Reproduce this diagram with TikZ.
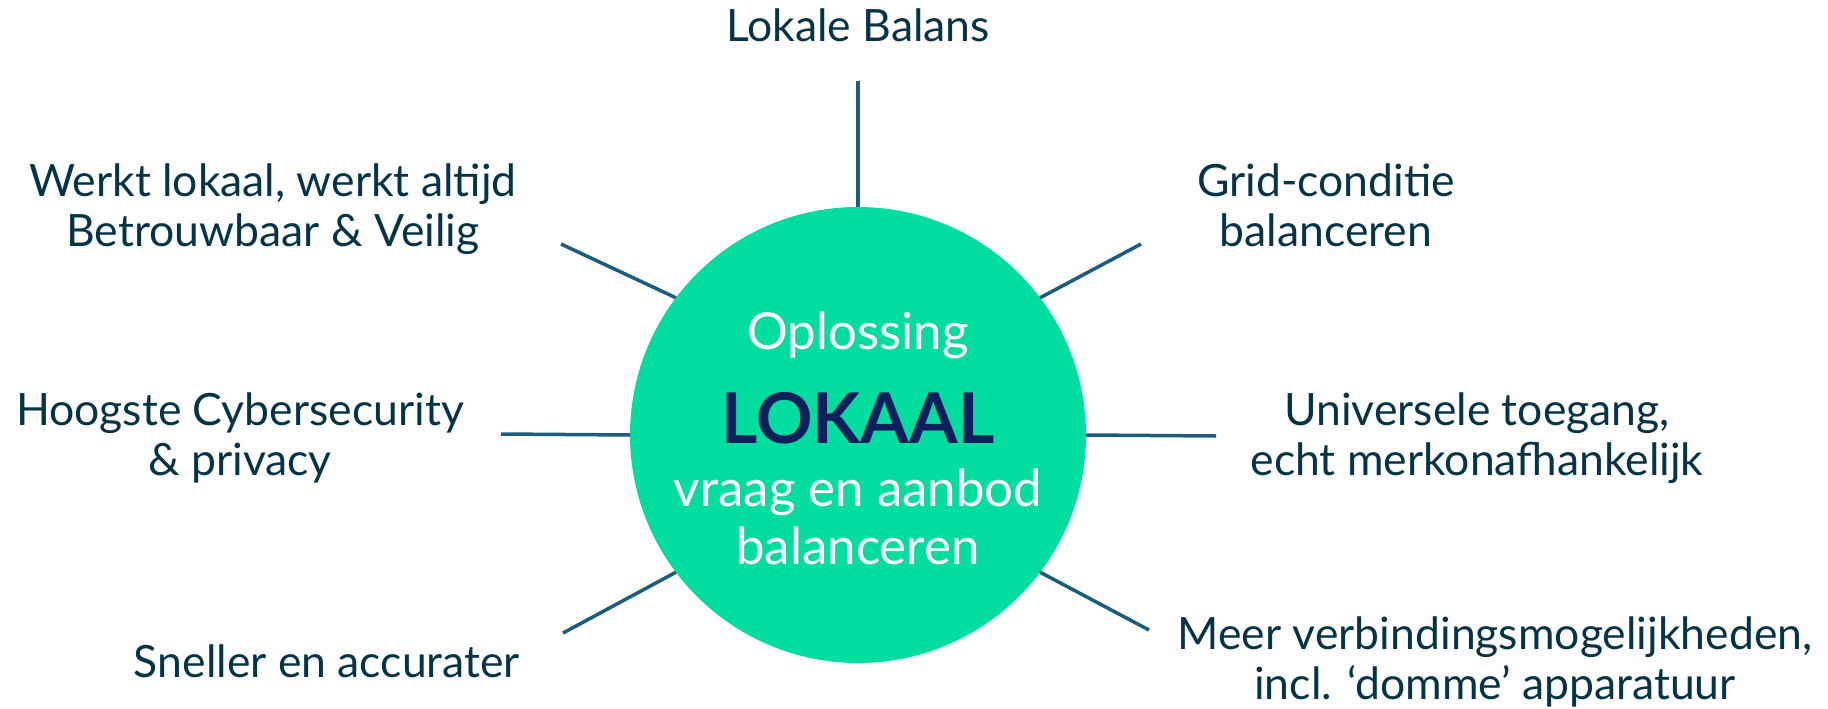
\documentclass[tikz,border=0pt]{standalone}
\usepackage{fontspec}
\setmainfont{Lato}

\definecolor{tekst}{HTML}{053447}
\definecolor{lijn}{HTML}{1B5C7F}
\definecolor{groen}{HTML}{00DD9E}
\definecolor{marine}{HTML}{0D1F5C}

\begin{document}
\begin{tikzpicture}[x=1pt, y=-1pt,
    punt/.style={text=tekst, align=center, anchor=base, inner sep=0pt, font=\fontsize{44.5}{50}\selectfont},
    wit/.style={text=white, anchor=base, inner sep=0pt, font=\fontsize{51}{50}\selectfont},
    spaak/.style={draw=lijn, line width=3.5pt}]

    \useasboundingbox (0,0) rectangle (1828,709);

    \node[circle, fill=groen, minimum size=456pt, inner sep=0pt, outer sep=0pt] (C) at (858,435) {};

    \node[wit] (O) at (858,349) {Oplossing};
    \node[text=marine, anchor=base, inner sep=0pt, font=\fontsize{70}{70}\selectfont\bfseries] (L) at (858,443) {LOKAAL};
    \node[wit] (V) at (858,506) {vraag en aanbod};
    \node[wit] (B) at (858,564) {balanceren};

    \node[punt] (N) at (858,42) {Lokale Balans};
    \node[punt] (NW) at (273,246) {Werkt lokaal, werkt altijd\\Betrouwbaar \& Veilig};
    \node[punt] (NE) at (1326,246) {Grid-conditie\\balanceren};
    \node[punt] (W) at (240,475) {Hoogste Cybersecurity\\\& privacy};
    \node[punt] (E) at (1477,475) {Universele toegang,\\echt merkonafhankelijk};
    \node[punt] (SW) at (327,677) {Sneller en accurater};
    \node[punt] (SE) at (1495,699) {Meer verbindingsmogelijkheden,\\incl. ‘domme’ apparatuur};

    \coordinate (n) at (858,81);
    \coordinate (nw) at (561,244);
    \coordinate (ne) at (1141,244);
    \coordinate (w) at (501,434);
    \coordinate (e) at (1216,436);
    \coordinate (sw) at (563,633);
    \coordinate (se) at (1149,630);

    \draw[spaak] (C.north) -- (n);
    \draw[spaak] (C.143.5) -- (nw);
    \draw[spaak] (C.37.5) -- (ne);
    \draw[spaak] (C.west) -- (w);
    \draw[spaak] (C.east) -- (e);
    \draw[spaak] (C.217) -- (sw);
    \draw[spaak] (C.323) -- (se);

\end{tikzpicture}
\end{document}
